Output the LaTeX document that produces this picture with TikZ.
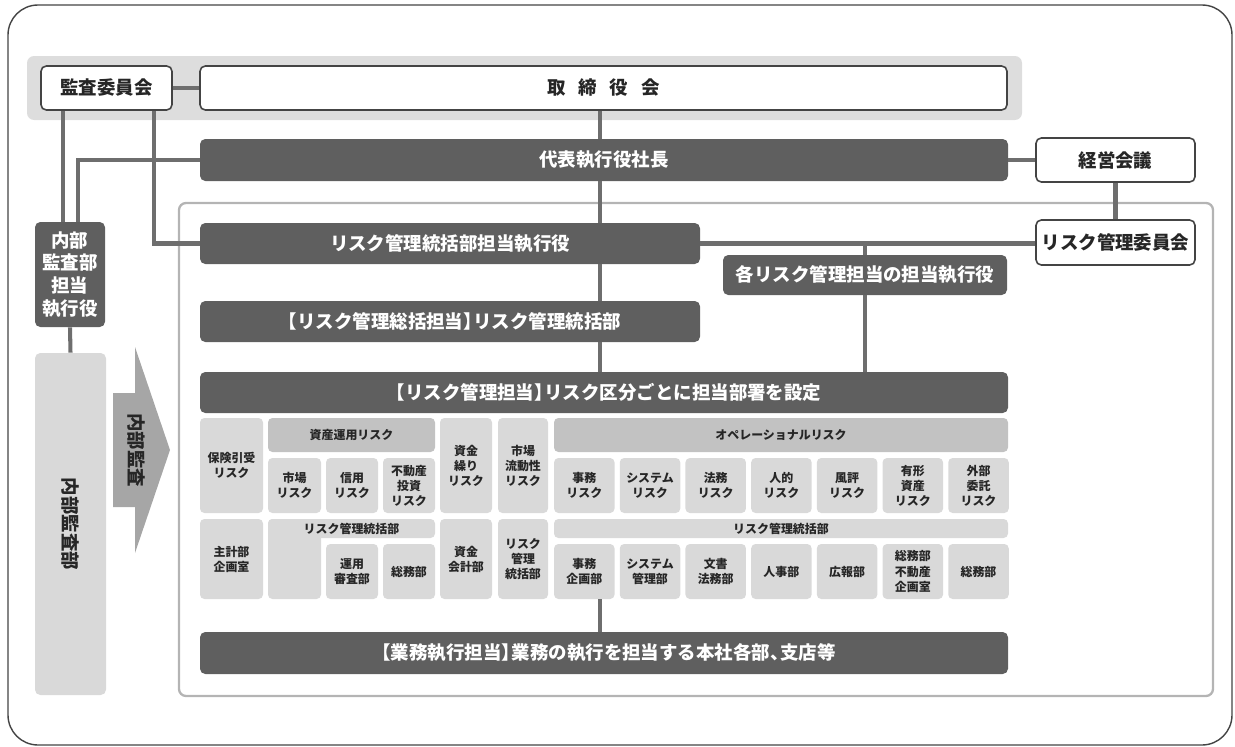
\documentclass[tikz,border=0pt]{standalone}
\usepackage{fontspec}
\setmainfont{Noto Sans CJK JP}
\usetikzlibrary{calc, positioning}

\definecolor{dunkel}{HTML}{5F5F5F}
\definecolor{linie}{HTML}{6E6E6E}
\definecolor{zelle}{HTML}{D9D9D9}
\definecolor{kopf}{HTML}{C2C2C2}
\definecolor{band}{HTML}{DDDDDD}
\definecolor{rahmen}{HTML}{444444}
\definecolor{innen}{HTML}{B4B4B4}
\definecolor{pfeil}{HTML}{A6A6A6}
\definecolor{schrift}{HTML}{262626}

\begin{document}
\begin{tikzpicture}[
    x=0.02cm, y=-0.02cm,          % Pixelraster der Vorlage
    wh/.style 2 args={minimum width=#1*0.02cm, minimum height=#2*0.02cm},
    whitebox/.style={draw=rahmen, line width=0.9pt, fill=white, rounded corners=3pt, inner sep=0pt, text=schrift, font=\bfseries\fontsize{10.5}{13}\selectfont},
    darkbox/.style={fill=dunkel, rounded corners=3pt, inner sep=0pt, align=center, text=white, font=\bfseries\fontsize{10.5}{13}\selectfont},
    cell/.style={fill=zelle, rounded corners=2.5pt, inner sep=0pt, align=center, text=schrift, font=\bfseries\fontsize{6.8}{8.6}\selectfont},
    headcell/.style={cell, fill=kopf},
    conn/.style={draw=linie, line width=2.3pt}
  ]
  \useasboundingbox (0,0) rectangle (1235,747);

  % Rahmen und Hintergrund
  \draw[rahmen, line width=0.8pt, rounded corners=0.6cm] (8,5) rectangle (1232,745);
  \fill[band, rounded corners=4pt] (27,56) rectangle (1022,120);
  \draw[innen, line width=1.3pt, rounded corners=4pt] (179,203) rectangle (1213,696);

  % Aufsicht und Leitung
  \node[whitebox, wh={131}{44}] (audit) at (106.5,88)   {監査委員会};
  \node[whitebox, wh={807}{44}] (board) at (603.5,88)   {取\hspace{0.7em}締\hspace{0.7em}役\hspace{0.7em}会};
  \node[darkbox,  wh={808}{42}] (ceo)   at (604,160)    {代表執行役社長};
  \node[whitebox, wh={159}{44}] (mgmt)  at (1115.5,160) {経営会議};
  \node[whitebox, wh={159}{45}] (rmc)   at (1115.5,242.5) {リスク管理委員会};

  % Risikomanagement
  \node[darkbox, wh={500}{41}] (rmexec)   at (450,243.5) {リスク管理統括部担当執行役};
  \node[darkbox, wh={284}{40}] (eachexec) at (865,275)   {各リスク管理担当の担当執行役};
  \node[darkbox, wh={500}{41}] (rmdept)   at (450,321.5) {【リスク管理総括担当】\hspace{-0.45em}リスク管理統括部};
  \node[darkbox, wh={808}{41}] (rmset)    at (604,392.5) {【リスク管理担当】\hspace{-0.45em}リスク区分ごとに担当部署を設定};
  \node[darkbox, wh={808}{42}] (ops)      at (604,653)   {【業務執行担当】\hspace{-0.45em}業務の執行を担当する本社各部、\hspace{-0.45em}支店等};

  % Interne Revision
  \node[darkbox, wh={70}{105}] (iaexec) at (70,274.5) {内部\\監査部\\担当\\執行役};
  \node[fill=zelle, rounded corners=3pt, inner sep=0pt, rotate=-90, wh={342}{71}, text=schrift,
        font=\bfseries\fontsize{10.5}{13}\selectfont] (iadept) at (70.5,524) {内部監査部};
  \fill[pfeil] (113,393) -- (135,393) -- (135,347) -- (170,450) -- (135,553) -- (135,507) -- (113,507) -- cycle;
  \node[rotate=-90, inner sep=0pt, text=schrift, font=\bfseries\fontsize{10.5}{13}\selectfont] (iaarrow) at (136,450) {内部監査};

  % Raster: Risikokategorien
  \node[cell, wh={63}{95}]     (hoken)  at (231.5,465.5) {保険引受\\リスク};
  \node[headcell, wh={167}{34}] (shisan) at (351.5,435)  {資産運用リスク};
  \node[cell, wh={53}{55}]     (shijo)  at (294.5,485.5) {市場\\リスク};
  \node[cell, wh={52}{55}]     (shinyo) at (352,485.5)   {信用\\リスク};
  \node[cell, wh={52}{55}]     (fudo)   at (409,485.5)   {不動産\\投資\\リスク};
  \node[cell, wh={52}{95}]     (shikin) at (466,465.5)   {資金\\繰り\\リスク};
  \node[cell, wh={50}{95}]     (ryudo)  at (523,465.5)   {市場\\流動性\\リスク};
  \node[headcell, wh={454}{34}] (opehd) at (781,435)     {オペレーショナルリスク};
  \foreach \txt [count=\i from 0] in {{事務\\リスク},{システム\\リスク},{法務\\リスク},{人的\\リスク},{風評\\リスク},{有形\\資産\\リスク},{外部\\委託\\リスク}}
    \node[cell, wh={60.5}{55}] (op\i) at ({584.3+65.7*\i},485.5) {\txt};

  % Raster: zuständige Abteilungen
  \node[cell, wh={63}{80}] (shukei) at (231.5,559) {主計部\\企画室};
  \fill[zelle, rounded corners=2.5pt] (268,519) rectangle (321,599);
  \node[cell, wh={167}{19}] (rmhdl)  at (351.5,528.5) {リスク管理統括部};
  \node[cell, wh={52}{55}]  (unyo)   at (352,571.5)   {運用\\審査部};
  \node[cell, wh={52}{55}]  (somu)   at (409,571.5)   {総務部};
  \node[cell, wh={52}{80}]  (kaikei) at (466,559)     {資金\\会計部};
  \node[cell, wh={50}{80}]  (rkt)    at (523,559)     {リスク\\管理\\統括部};
  \node[cell, wh={454}{19}] (rmhdr)  at (781,528.5)   {リスク管理統括部};
  \foreach \txt [count=\i from 0] in {{事務\\企画部},{システム\\管理部},{文書\\法務部},{人事部},{広報部},{総務部\\不動産\\企画室},{総務部}}
    \node[cell, wh={60.5}{55}] (dep\i) at ({584.3+65.7*\i},571.5) {\txt};

  % Verbindungen
  \coordinate (achse) at (600,0);
  \coordinate (ia1) at ($(iaexec.north)+(-7,0)$);
  \coordinate (ia2) at ($(iaexec.north)+(8,0)$);
  \draw[conn] (audit.east) -- (board.west);
  \draw[conn] (board.south -| achse) -- (ceo.north -| achse);
  \draw[conn] (ceo.south -| achse) -- (rmexec.north -| achse);
  \draw[conn] (rmexec.south -| achse) -- (rmdept.north -| achse);
  \draw[conn] (rmdept.south -| achse) -- (rmset.north -| achse);
  \draw[conn] (ceo.east) -- (mgmt.west);
  \draw[conn] (mgmt.south) -- (rmc.north);
  \draw[conn] (rmexec.east) -- (rmexec.east -| rmc.west);
  \draw[conn] (rmexec.east -| eachexec.north) -- (eachexec.north);
  \draw[conn] (eachexec.south) -- (rmset.north -| eachexec.south);
  \draw[conn] (audit.south -| ia1) -- (ia1);
  \draw[conn] (ceo.west) -| (ia2);
  \draw[conn] ($(audit.south east)+(-19,0)$) |- (rmexec.west);
  \draw[conn] (iaexec.south) -- (iadept.west);
  \draw[conn] (dep0.south -| achse) -- (ops.north -| achse);

\end{tikzpicture}
\end{document}
